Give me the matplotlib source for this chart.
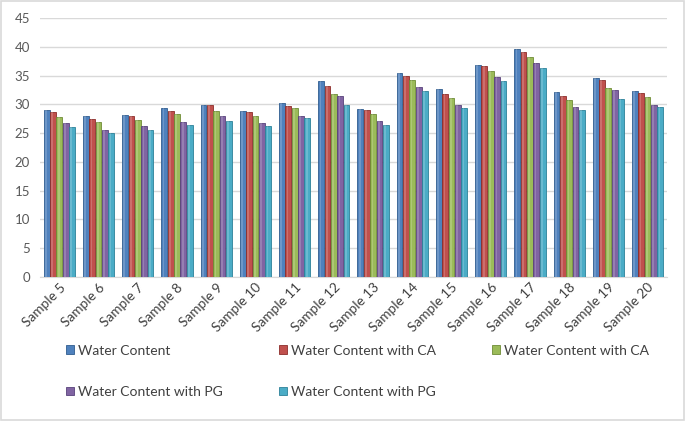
import numpy as np
import matplotlib.pyplot as plt
from matplotlib.patches import Rectangle

plt.rcParams['font.family'] = ['Lato', 'DejaVu Sans']

# sample names and the five series
samples = ['Sample %d' % i for i in range(5, 21)]
water = [29.1, 27.9, 28.2, 29.3, 29.9, 28.9, 30.3, 34.0, 29.2, 35.4, 32.6, 36.9, 39.6, 32.1, 34.6, 32.4]
water_ca1 = [28.6, 27.4, 28.0, 28.8, 29.9, 28.6, 29.8, 33.2, 29.0, 34.9, 31.8, 36.6, 39.1, 31.4, 34.2, 31.9]
water_ca2 = [27.8, 27.0, 27.3, 28.3, 28.9, 27.9, 29.4, 31.8, 28.4, 34.2, 31.2, 35.8, 38.3, 30.8, 32.8, 31.3]
water_pg1 = [26.8, 25.6, 26.2, 27.0, 28.0, 26.8, 27.9, 31.4, 27.2, 33.0, 29.9, 34.8, 37.2, 29.6, 32.5, 29.9]
water_pg2 = [26.0, 25.1, 25.5, 26.4, 27.1, 26.2, 27.6, 29.9, 26.5, 32.4, 29.4, 34.1, 36.4, 29.0, 31.0, 29.5]

series = [water, water_ca1, water_ca2, water_pg1, water_pg2]
names = ['Water Content', 'Water Content with CA', 'Water Content with CA',
         'Water Content with PG', 'Water Content with PG']
colors = ['#4F81BD', '#C0504D', '#9BBB59', '#8064A2', '#4BACC6']
edges = ['#2F5C8F', '#8C2D2A', '#6E8B35', '#58417A', '#2C8199']

fig = plt.figure(figsize=(6.85, 4.21), dpi=100)
ax = fig.add_axes([0.058, 0.342, 0.916, 0.615])

x = np.arange(len(samples))
w = 0.148
step = 0.162
handles = []
for i, (vals, c, e, n) in enumerate(zip(series, colors, edges, names)):
    pos = x + (i - 2) * step
    b = ax.bar(pos, vals, width=w, color=c, edgecolor=e, linewidth=0.6, label=n, zorder=3)
    handles.append(b)
    # lighter stripe to mimic the shaded bars
    ax.bar(pos - w * 0.12, vals, width=w * 0.3, color='white', alpha=0.18, linewidth=0, zorder=4)

ax.set_xlim(-0.5, len(samples) - 0.5)
ax.set_ylim(0, 45)
ax.set_yticks(range(0, 46, 5))
ax.yaxis.grid(True, color='#D9D9D9', linewidth=1, zorder=0)
ax.set_axisbelow(True)
for s in ['top', 'right', 'left']:
    ax.spines[s].set_visible(False)
ax.spines['bottom'].set_color('#D9D9D9')
ax.tick_params(axis='y', length=0, labelsize=9.5, labelcolor='#595959', pad=7)
ax.tick_params(axis='x', length=0, labelsize=9.8, labelcolor='#404040', pad=3)
ax.set_xticks(x)
ax.set_xticklabels(samples, rotation=45, ha='right', rotation_mode='anchor')

# legend is filled row by row in the reference
order = [0, 3, 1, 4, 2]
leg = fig.legend([handles[k] for k in order], [names[k] for k in order],
                 loc='upper left', bbox_to_anchor=(0.096, 0.181), ncol=3, frameon=False,
                 fontsize=10, handlelength=0.6, handleheight=0.6, handletextpad=0.3,
                 columnspacing=4.0, labelspacing=2.1, borderpad=0, borderaxespad=0)
for t in leg.get_texts():
    t.set_color('#404040')

fig.patches.append(Rectangle((0.001, 0.002), 0.997, 0.995, transform=fig.transFigure,
                             fill=False, edgecolor='#D9D9D9', linewidth=1.2))

fig.savefig('out.png', dpi=100)
